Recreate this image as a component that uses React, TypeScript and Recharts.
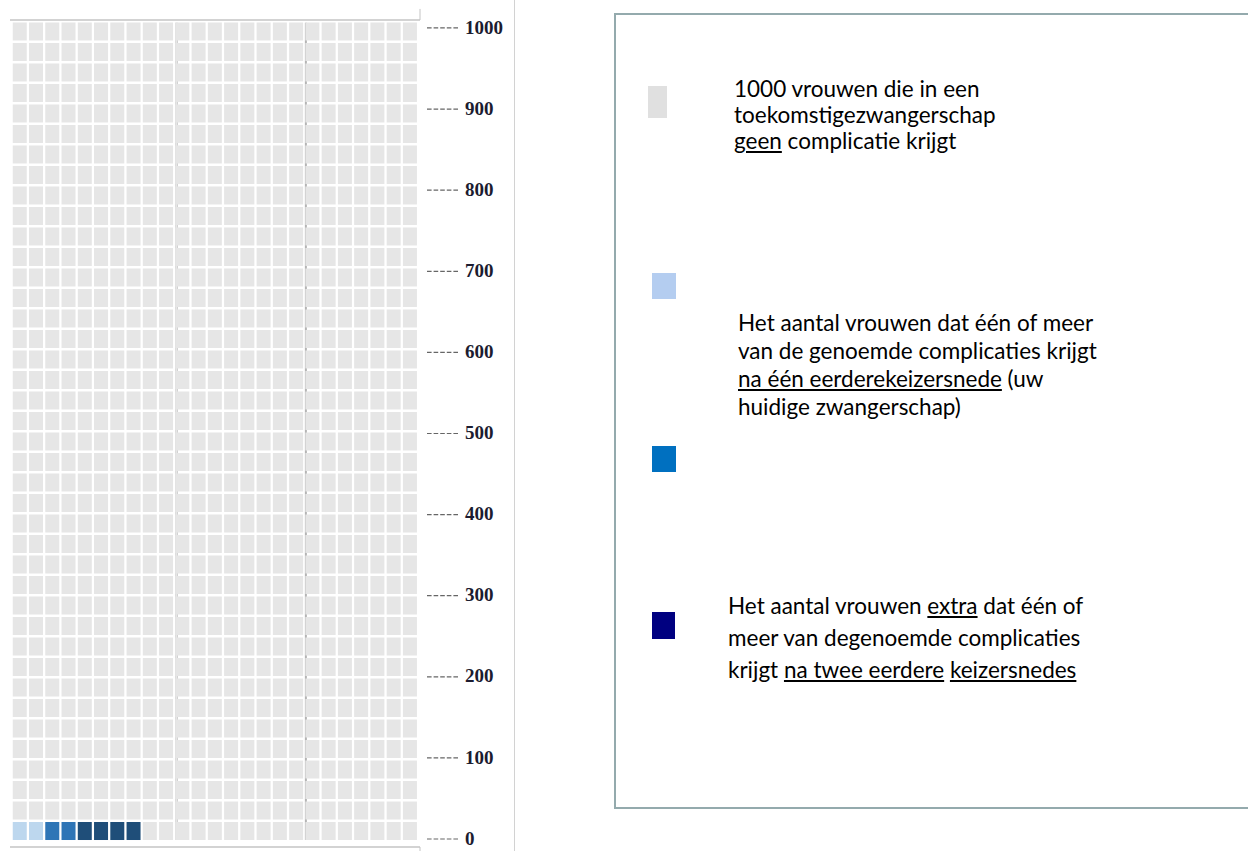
import { ScatterChart, Scatter, XAxis, YAxis, ReferenceLine } from 'recharts';

// waffle: 1000 women, 25 columns x 40 rows, filled from bottom-left
const categories = [
  'Eén eerdere keizersnede',
  'Eén eerdere keizersnede (uw huidige zwangerschap)',
  'Extra na twee eerdere keizersnedes',
  'Geen complicatie',
];
const counts = [2, 2, 4, 992];
const cellColors = ['#bdd7ee', '#2e75b6', '#1f4e79', '#e6e6e6'];
const countTicks = [0, 100, 200, 300, 400, 500, 600, 700, 800, 900, 1000];
const COLS = 25;

const legendColors = ['#e0e0e0', '#b4cdf0', '#0070c0', '#000080'];

type Cell = { col: number; row: number };

function buildSeries(): Cell[][] {
  let idx = 0;
  return counts.map((n) => {
    const pts: Cell[] = [];
    for (let k = 0; k < n; k++, idx++) {
      pts.push({ col: idx % COLS, row: Math.floor(idx / COLS) });
    }
    return pts;
  });
}

const CellShape = (props: any) => {
  const { cx, cy, fill } = props;
  return <rect x={cx - 7} y={cy - 9} width={14} height={18} fill={fill} />;
};

const CountTick = (props: any) => {
  const { x, y, payload } = props;
  return (
    <g>
      <line x1={x - 1} x2={x + 32} y1={y + 1} y2={y + 1} stroke="#666" strokeWidth={1.2} strokeDasharray="4.6 2" />
      <text
        x={x + 37}
        y={y}
        dy="0.35em"
        fontFamily="'Liberation Serif', serif"
        fontWeight="bold"
        fontSize={19}
        fill="#1c1c30"
      >
        {payload.value}
      </text>
    </g>
  );
};

const textStyle: React.CSSProperties = {
  position: 'absolute',
  fontFamily: 'Lato, sans-serif',
  fontSize: 22.5,
  color: '#000',
  whiteSpace: 'nowrap',
};

function Lines({ x, y, lh, lines }: { x: number; y: number; lh: number; lines: React.ReactNode[] }) {
  return (
    <>
      {lines.map((l, i) => (
        <div key={i} style={{ ...textStyle, left: x, top: y + i * lh - lh / 2, lineHeight: `${lh}px` }}>
          {l}
        </div>
      ))}
    </>
  );
}

function Swatch({ x, y, w, h, color }: { x: number; y: number; w: number; h: number; color: string }) {
  return <div style={{ position: 'absolute', left: x, top: y, width: w, height: h, background: color }} />;
}

export default function App() {
  const series = buildSeries();
  return (
    <div style={{ position: 'absolute', left: 0, top: 0, width: 1248, height: 851, background: '#fff', overflow: 'hidden' }}>
      <ScatterChart width={1248} height={851} margin={{ top: 20, right: 768, bottom: 4, left: 10 }}>
        <XAxis type="number" dataKey="col" domain={[-0.6, 24.62]} hide allowDataOverflow />
        <YAxis yAxisId="cells" type="number" dataKey="row" domain={[-0.78, 39.56]} hide allowDataOverflow />
        <YAxis
          yAxisId="count"
          orientation="right"
          type="number"
          domain={[-11.1, 1008.6]}
          ticks={countTicks}
          interval={0}
          axisLine={false}
          tickLine={false}
          tick={<CountTick />}
          width={60}
          allowDataOverflow
        />
        <ReferenceLine yAxisId="cells" y={39.56} stroke="#c4c4c4" strokeWidth={1.5} />
        <ReferenceLine yAxisId="cells" y={-0.78} stroke="#c4c4c4" strokeWidth={1.5} />
        <ReferenceLine
          yAxisId="cells"
          segment={[{ x: 24.62, y: 39.56 }, { x: 24.62, y: 40.1 }]}
          stroke="#c4c4c4"
          ifOverflow="visible"
        />
        <ReferenceLine
          yAxisId="cells"
          segment={[{ x: 24.62, y: -0.78 }, { x: 24.62, y: -1.0 }]}
          stroke="#c4c4c4"
          ifOverflow="visible"
        />
        {series.map((pts, i) => (
          <Scatter
            key={categories[i]}
            name={categories[i]}
            yAxisId="cells"
            data={pts}
            fill={cellColors[i]}
            shape={<CellShape />}
            isAnimationActive={false}
          />
        ))}
        <ReferenceLine
          yAxisId="cells"
          segment={[{ x: 9.65, y: -0.44 }, { x: 9.65, y: 39.43 }]}
          stroke="#c8c8c8"
          strokeWidth={2.5}
        />
        <ReferenceLine
          yAxisId="cells"
          segment={[{ x: 9.65, y: -0.44 }, { x: 9.65, y: 39.43 }]}
          stroke="#f4f4f4"
          strokeWidth={0.8}
        />
        <ReferenceLine
          yAxisId="cells"
          segment={[{ x: 17.6, y: -0.44 }, { x: 17.6, y: 39.43 }]}
          stroke="#b4b4b4"
          strokeWidth={2}
        />
      </ScatterChart>

      {/* thin separator right of the tick labels */}
      <div style={{ position: 'absolute', left: 514, top: 0, width: 1, height: 851, background: '#d2d2d2' }} />

      {/* legend box */}
      <div
        style={{
          position: 'absolute',
          left: 614,
          top: 13,
          width: 660,
          height: 796,
          border: '2px solid #94aaad',
          boxSizing: 'border-box',
        }}
      />
      <Swatch x={648} y={86} w={19} h={32} color={legendColors[0]} />
      <Swatch x={652} y={273} w={24} h={26} color={legendColors[1]} />
      <Swatch x={652} y={446} w={24} h={26} color={legendColors[2]} />
      <Swatch x={652} y={612} w={23} h={27} color={legendColors[3]} />

      <Lines
        x={734}
        y={89}
        lh={26}
        lines={[
          '1000 vrouwen die in een',
          'toekomstigezwangerschap',
          <>
            <u>geen</u> complicatie krijgt
          </>,
        ]}
      />
      <Lines
        x={738}
        y={323}
        lh={28}
        lines={[
          'Het aantal vrouwen dat één of meer',
          'van de genoemde complicaties krijgt',
          <>
            <u>na één eerderekeizersnede</u> (uw
          </>,
          'huidige zwangerschap)',
        ]}
      />
      <Lines
        x={728}
        y={606}
        lh={32}
        lines={[
          <>
            Het aantal vrouwen <u>extra</u> dat één of
          </>,
          'meer van degenoemde complicaties',
          <>
            krijgt <u>na twee eerdere</u> <u>keizersnedes</u>
          </>,
        ]}
      />
    </div>
  );
}
